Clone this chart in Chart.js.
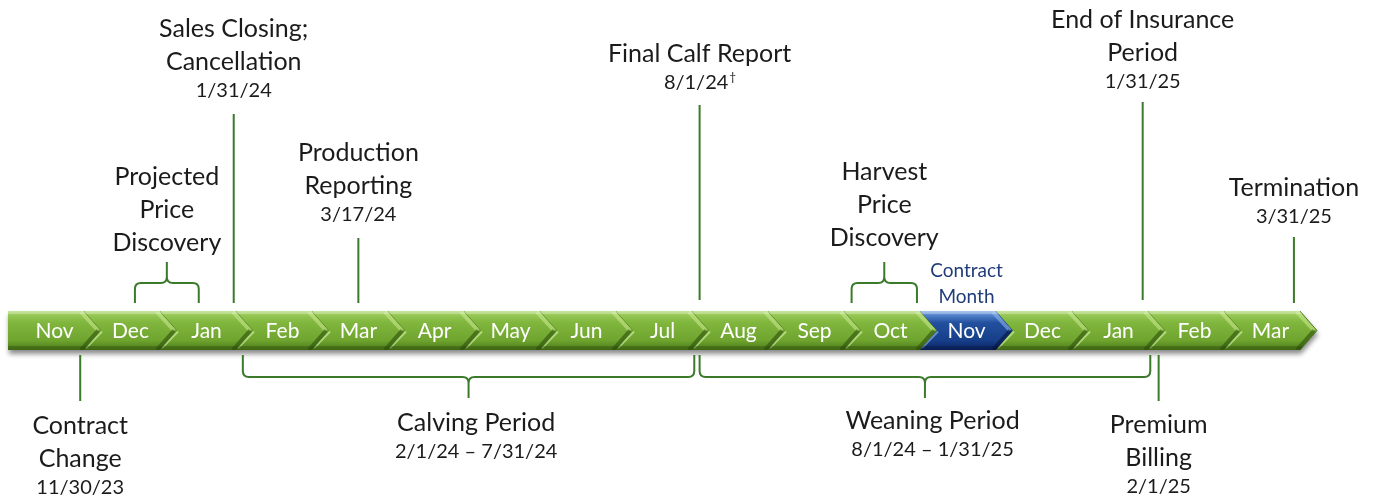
<!DOCTYPE html>
<html><head><meta charset="utf-8">
<script src="https://cdn.jsdelivr.net/npm/chart.js@4.4.1/dist/chart.umd.min.js"></script>
<style>html,body{margin:0;padding:0;background:#fff;}#wrap{width:1377px;height:502px;position:relative;}</style>
</head><body><div id="wrap"><canvas id="c" width="1377" height="502"></canvas></div>
<script>
// ---- DATA ----
// Month segments, Nov 2023 .. Mar 2025 ; segment k spans scale value k .. k+1
const monthLabels = ['Nov','Dec','Jan','Feb','Mar','Apr','May','Jun','Jul','Aug','Sep','Oct','Nov','Dec','Jan','Feb','Mar'];
const contractMonthIndex = 12;
const contractMonthLabel = ['Contract','Month'];

// Point events (position = months since 11/1/23)
const eventTitles = [['Contract','Change'],['Sales Closing;','Cancellation'],['Production','Reporting'],['Final Calf Report'],['End of Insurance','Period'],['Premium','Billing'],['Termination']];
const eventDates = ['11/30/23','1/31/24','3/17/24','8/1/24','1/31/25','2/1/25','3/31/25'];
const eventDateMarks = ['','','','\u2020','','',''];
const eventPositions = [0.95, 2.97, 4.61, 9.1, 14.93, 15.14, 16.92];
const eventSides = ['below','above','above','above','above','below','above'];

// Period events (braces)
const periodTitles = [['Projected','Price','Discovery'],['Harvest','Price','Discovery'],['Calving Period'],['Weaning Period']];
const periodDates = ['','','2/1/24 \u2013 7/31/24','8/1/24 \u2013 1/31/25'];
const periodStarts = [1.67, 11.1, 3.09, 9.1];
const periodEnds = [2.51, 11.96, 9.03, 15.03];
const periodSides = ['above','above','below','below'];

// ---- LAYOUT / STYLE (vertical positions in px, y scale = page pixels) ----
const L = {
  barTop: 311, barBottom: 350, chevron: 17,
  eventLineY: [[355,401],[114,303],[238,303],[105,300],[102,300],[355,401],[237,303]],
  eventTextY: [426, 29, 153, 54, 20, 425, 188],
  periodTextY: [177, 172, 423, 421],
  periodTextDx: [0, 0, 0.1, 0.1],
  braceAbove: {end: 303, bar: 283, tip: 262},
  braceBelow: {end: 355, bar: 377, tip: 398},
  lineGap: 33, dateGap: 29,
  contractTextY: [271, 297],
  lineColor: '#3b7a2a', textColor: '#1b1b1b', navy: '#203c78',
  font: 'Lato, "Open Sans", sans-serif'
};

const xMin = -8/76, xMax = (1377-8)/76;

function drawLines(ctx, lines, cx, y0, date, mark, dateFontPx) {
  ctx.fillStyle = L.textColor;
  ctx.textAlign = 'center'; ctx.textBaseline = 'middle';
  ctx.font = '25px ' + L.font;
  let y = y0;
  lines.forEach((t, i) => { if (i > 0) y += L.lineGap; ctx.fillText(t, cx, y); });
  if (date) {
    y += L.dateGap;
    ctx.font = dateFontPx + 'px ' + L.font;
    if (mark) {
      const w1 = ctx.measureText(date).width;
      ctx.font = '12px ' + L.font;
      const w2 = ctx.measureText(mark).width;
      const sx = cx - (w1 + w2) / 2;
      ctx.textAlign = 'left';
      ctx.font = dateFontPx + 'px ' + L.font;
      ctx.fillText(date, sx, y);
      ctx.font = '12px ' + L.font;
      ctx.fillText(mark, sx + w1 + 1, y - 6);
      ctx.textAlign = 'center';
    } else {
      ctx.fillText(date, cx, y);
    }
  }
}

function brace(ctx, x1, x2, g) {
  const xm = (x1 + x2) / 2, r = 6;
  const s = Math.sign(g.bar - g.end);
  const t = Math.sign(g.tip - g.bar);
  ctx.beginPath();
  ctx.moveTo(x1, g.end);
  ctx.lineTo(x1, g.bar - s * r);
  ctx.quadraticCurveTo(x1, g.bar, x1 + r, g.bar);
  ctx.lineTo(xm - r, g.bar);
  ctx.quadraticCurveTo(xm, g.bar, xm, g.bar + t * r);
  ctx.lineTo(xm, g.tip);
  ctx.moveTo(xm, g.bar + t * r);
  ctx.quadraticCurveTo(xm, g.bar, xm + r, g.bar);
  ctx.lineTo(x2 - r, g.bar);
  ctx.quadraticCurveTo(x2, g.bar, x2, g.bar - s * r);
  ctx.lineTo(x2, g.end);
  ctx.stroke();
}

const timelinePlugin = {
  id: 'timeline',
  beforeDatasetsDraw(chart) {
    const {ctx, scales: {x, y}} = chart;
    const top = y.getPixelForValue(L.barTop), bot = y.getPixelForValue(L.barBottom), mid = (top + bot) / 2;
    const d = L.chevron;
    const x0 = x.getPixelForValue(0), xN = x.getPixelForValue(monthLabels.length);
    ctx.save();
    ctx.beginPath();
    ctx.moveTo(x0, top); ctx.lineTo(xN, top); ctx.lineTo(xN + d, mid); ctx.lineTo(xN, bot); ctx.lineTo(x0, bot); ctx.closePath();
    ctx.shadowColor = 'rgba(0,0,0,0.45)'; ctx.shadowBlur = 5; ctx.shadowOffsetY = 4; ctx.shadowOffsetX = 1;
    ctx.fillStyle = '#5f9225'; ctx.fill();
    ctx.restore();

    monthLabels.forEach((m, k) => {
      const xl = x.getPixelForValue(k), xr = x.getPixelForValue(k + 1);
      const blue = k === contractMonthIndex;
      const g = ctx.createLinearGradient(0, top, 0, bot);
      if (blue) {
        g.addColorStop(0, '#8db4e8'); g.addColorStop(0.12, '#4f7fc8'); g.addColorStop(0.3, '#22509e');
        g.addColorStop(0.75, '#173f8a'); g.addColorStop(1, '#0b2460');
      } else {
        g.addColorStop(0, '#b6dc7c'); g.addColorStop(0.12, '#94c653'); g.addColorStop(0.3, '#80b63d');
        g.addColorStop(0.75, '#6fa52f'); g.addColorStop(1, '#4b7a1b');
      }
      ctx.save();
      ctx.beginPath();
      ctx.moveTo(xl, top); ctx.lineTo(xr, top); ctx.lineTo(xr + d, mid); ctx.lineTo(xr, bot); ctx.lineTo(xl, bot);
      if (k > 0) ctx.lineTo(xl + d, mid);
      ctx.closePath();
      ctx.fillStyle = g; ctx.fill();
      ctx.clip();
      // bevel on the point: light upper face, dark lower face
      ctx.lineWidth = 4;
      ctx.strokeStyle = blue ? 'rgba(150,190,240,0.55)' : 'rgba(205,235,150,0.55)';
      ctx.beginPath(); ctx.moveTo(xr - 3, top + 1); ctx.lineTo(xr + d - 3, mid); ctx.stroke();
      ctx.strokeStyle = blue ? 'rgba(5,20,60,0.6)' : 'rgba(45,80,12,0.6)';
      ctx.beginPath(); ctx.moveTo(xr + d - 3, mid); ctx.lineTo(xr - 3, bot); ctx.stroke();
      // notch: light lower edge
      if (k > 0) {
        ctx.lineWidth = 2;
        ctx.strokeStyle = blue ? 'rgba(150,190,240,0.6)' : 'rgba(220,245,170,0.6)';
        ctx.beginPath(); ctx.moveTo(xl + d + 1, mid + 1); ctx.lineTo(xl + 2, bot - 2); ctx.stroke();
      }
      // bottom darker bevel and top highlight
      ctx.fillStyle = blue ? 'rgba(5,20,60,0.35)' : 'rgba(40,70,10,0.35)';
      ctx.fillRect(xl - 2, bot - 4, xr - xl + d + 4, 4);
      ctx.fillStyle = 'rgba(255,255,255,0.25)';
      ctx.fillRect(xl - 2, top, xr - xl + d + 4, 3);
      ctx.restore();
      // outline point edge
      ctx.save();
      ctx.strokeStyle = blue ? 'rgba(10,30,80,0.7)' : 'rgba(50,90,15,0.6)';
      ctx.lineWidth = 1;
      ctx.beginPath(); ctx.moveTo(xr, top); ctx.lineTo(xr + d, mid); ctx.lineTo(xr, bot); ctx.stroke();
      ctx.restore();
      // month label
      ctx.save();
      ctx.fillStyle = '#ffffff';
      ctx.font = '21px ' + L.font;
      ctx.textAlign = 'center'; ctx.textBaseline = 'middle';
      ctx.fillText(m, (xl + xr) / 2 + d / 2, mid + 1);
      ctx.restore();
    });
  },
  afterDatasetsDraw(chart) {
    const {ctx, scales: {x, y}} = chart;
    ctx.save();
    ctx.strokeStyle = L.lineColor; ctx.lineWidth = 2;
    periodTitles.forEach((t, i) => {
      const g0 = periodSides[i] === 'above' ? L.braceAbove : L.braceBelow;
      const g = {end: y.getPixelForValue(g0.end), bar: y.getPixelForValue(g0.bar), tip: y.getPixelForValue(g0.tip)};
      brace(ctx, x.getPixelForValue(periodStarts[i]), x.getPixelForValue(periodEnds[i]), g);
    });
    eventTitles.forEach((t, i) => {
      drawLines(ctx, t, x.getPixelForValue(eventPositions[i]), y.getPixelForValue(L.eventTextY[i]), eventDates[i], eventDateMarks[i], 20);
    });
    periodTitles.forEach((t, i) => {
      const cx = x.getPixelForValue((periodStarts[i] + periodEnds[i]) / 2 + L.periodTextDx[i]);
      drawLines(ctx, t, cx, y.getPixelForValue(L.periodTextY[i]), periodDates[i], '', 20);
    });
    ctx.fillStyle = L.navy; ctx.font = '19px ' + L.font; ctx.textAlign = 'center'; ctx.textBaseline = 'middle';
    const cxm = x.getPixelForValue(contractMonthIndex + 0.5) + L.chevron / 2;
    contractMonthLabel.forEach((t, i) => ctx.fillText(t, cxm, y.getPixelForValue(L.contractTextY[i])));
    ctx.restore();
  }
};

const datasets = eventPositions.map((p, i) => ({
  label: eventTitles[i].join(' '),
  data: [{x: p, y: L.eventLineY[i][0]}, {x: p, y: L.eventLineY[i][1]}],
  showLine: true, borderColor: L.lineColor, borderWidth: 2, pointRadius: 0, fill: false
}));

new Chart(document.getElementById('c'), {
  type: 'scatter',
  data: {datasets},
  options: {
    responsive: false, animation: false, events: [],
    layout: {padding: 0},
    plugins: {legend: {display: false}, tooltip: {enabled: false}},
    scales: {
      x: {type: 'linear', min: xMin, max: xMax, display: false},
      y: {type: 'linear', min: 0, max: 502, reverse: true, display: false}
    }
  },
  plugins: [timelinePlugin]
});
</script>
</body></html>
